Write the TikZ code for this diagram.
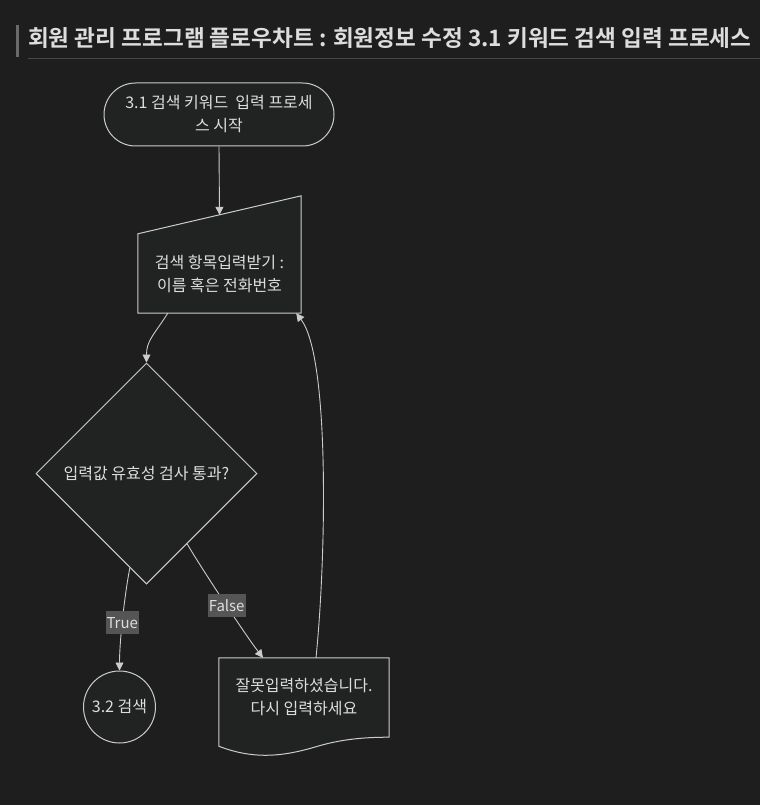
\documentclass[tikz,border=0pt]{standalone}
\usepackage{fontspec}
\setmainfont{Noto Sans CJK KR}[BoldFont={Noto Sans CJK KR Bold}]
\usetikzlibrary{shapes.geometric,arrows.meta,calc,backgrounds}
\tikzset{>={Triangle[width=8pt,length=8pt]}}
\definecolor{bgcol}{HTML}{1E1E1E}
\definecolor{nodefill}{HTML}{212323}
\definecolor{linecol}{HTML}{CCCCCC}
\definecolor{txtcol}{HTML}{DDDDDD}
\definecolor{lblfill}{HTML}{555555}
\definecolor{barcol}{HTML}{6A6A6A}
\definecolor{rulecol}{HTML}{474747}

\begin{document}
\begin{tikzpicture}[x=1pt, y=-1pt,
    every node/.style={text=txtcol, font=\fontsize{16}{23}\selectfont},
    box/.style={fill=nodefill, draw=linecol, line width=1pt},
    edge/.style={draw=linecol, line width=0.9pt, ->},
    lbl/.style={fill=lblfill, inner xsep=1pt, inner ysep=0pt, minimum height=23pt, font=\fontsize{15}{16}\selectfont}]
    \useasboundingbox (0,0) rectangle (760,805);

    % title
    \fill[barcol] (16,25) rectangle (19,57);
    \draw[rulecol] (28,58.5) -- (760,58.5);
    \node[anchor=base west, inner sep=0, font=\bfseries\fontsize{22.6}{26}\selectfont] (title) at (28,46.5)
        {회원 관리 프로그램 플로우차트 : 회원정보 수정 3.1 키워드 검색 입력 프로세스};

    % nodes
    \node[box, rounded corners=31.5pt, minimum width=230pt, minimum height=63pt, align=center] (start) at (219,114.5)
        {3.1 검색 키워드~~입력 프로세\\스 시작};
    \node[minimum width=163pt, minimum height=79pt, inner sep=0, align=center] (inp) at (219.5,273.5)
        {검색 항목입력받기 :\\이름 혹은 전화번호};
    \node[box, diamond, aspect=1, minimum width=221pt, minimum height=221pt, inner sep=0] (dec) at (146.5,473.5)
        {입력값 유효성 검사 통과?};
    \node[box, circle, minimum size=72pt, inner sep=0] (srch) at (119.5,707) {3.2 검색};
    \node[minimum width=170pt, minimum height=79pt, inner sep=0, align=center] (doc) at (304,697.5)
        {잘못입력하셨습니다.\\다시 입력하세요};

    % shapes behind the text
    \begin{pgfonlayer}{background}
        \fill[bgcol] (0,0) rectangle (760,805);
        \draw[box] (inp.south west) -- (inp.north west) -- ([yshift=38pt]inp.north east) -- (inp.south east) -- cycle;
        \draw[box] ([yshift=-9pt]doc.south west) .. controls +(36,14) and +(-33,10) .. ([xshift=99pt,yshift=-9pt]doc.south west)
            .. controls +(27,-8) and +(-19,0) .. (doc.south east) -- (doc.north east) -- (doc.north west) -- cycle;
    \end{pgfonlayer}

    \coordinate (inp-top) at ($(inp.north west)!0.5!([yshift=38pt]inp.north east)$);
    \coordinate (inp-out) at ([xshift=30pt]inp.south west);
    \coordinate (inp-in) at ([xshift=-5pt]inp.south east);
    \coordinate (doc-in) at ([xshift=-41pt]doc.north);
    \coordinate (doc-out) at ([xshift=12pt]doc.north);

    % connectors
    \draw[edge] (start.south) -- (inp-top);
    \draw[edge] (inp-out) .. controls +(-14,22) and +(0,-22) .. (dec.north);
    \draw[edge] (dec.260) .. controls +(-5,25) and +(0,-30) .. (srch.north) node[lbl, pos=0.55] (ltrue) {True};
    \draw[edge] (dec.300) .. controls +(14,24) and +(-17,-22) .. (doc-in) node[lbl, pos=0.53] (lfalse) {False};
    \draw[edge] (doc-out) .. controls +(10,-98) and +(34,44) .. (inp-in);
\end{tikzpicture}
\end{document}
